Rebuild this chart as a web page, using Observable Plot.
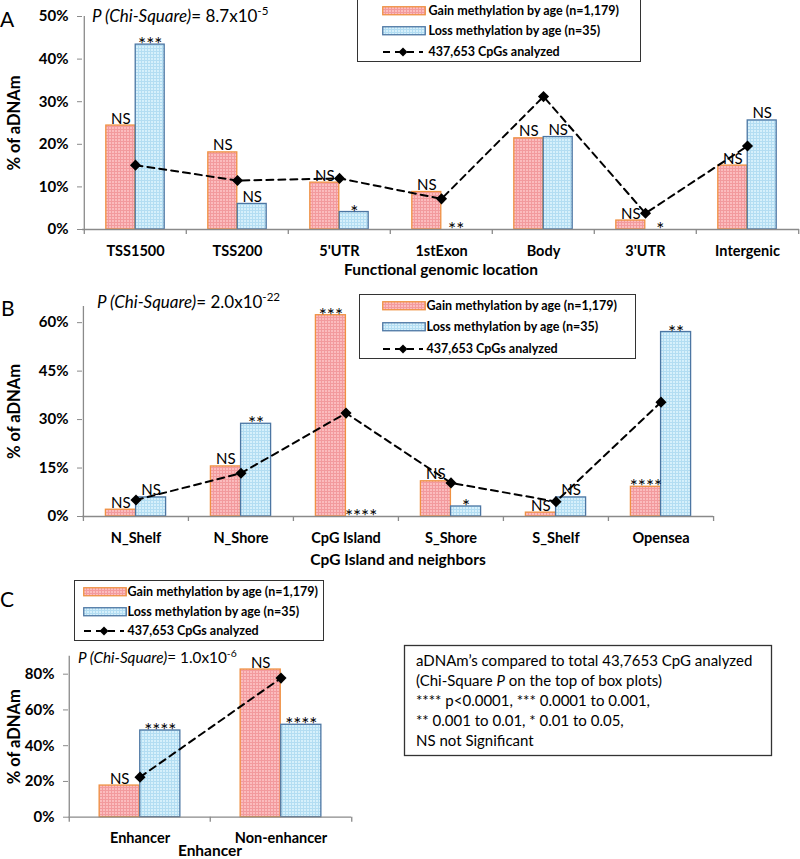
<!DOCTYPE html>
<html><head><meta charset="utf-8">
<script src="https://cdn.jsdelivr.net/npm/d3@7"></script>
<script src="https://cdn.jsdelivr.net/npm/@observablehq/plot@0.6"></script>
<style>
body{margin:0;background:#fff;font-family:Lato, sans-serif;}
#root{position:relative;width:800px;height:859px;overflow:hidden;background:#fff;}
.plot{position:absolute;}
.legend{position:absolute;border:1.5px solid #333;background:#fff;box-sizing:border-box;font-size:12.5px;font-weight:bold;color:#000;}
.lrow{position:absolute;height:14px;line-height:14px;white-space:nowrap;}
.lrow svg{position:absolute;left:0;top:2px;}
.lrow span{position:absolute;top:0;}
#overlay{position:absolute;left:0;top:0;pointer-events:none;}
</style></head>
<body>
<svg width="0" height="0" style="position:absolute">
<defs>
<pattern id="gainPat" width="3" height="3" patternUnits="userSpaceOnUse">
<rect width="3" height="3" fill="#fbbcbe"/>
<path d="M0 0.5H3M0.5 0V3" stroke="#f29a9d" stroke-width="1"/>
</pattern>
<pattern id="lossPat" width="3" height="3" patternUnits="userSpaceOnUse">
<rect width="3" height="3" fill="#d6f0fb"/>
<path d="M0 0.5H3M0.5 0V3" stroke="#b3ddf2" stroke-width="1"/>
</pattern>
</defs>
</svg>
<div id="root"></div>
<script>
// ---------- data ----------
const funcCats = ["TSS1500","TSS200","5'UTR","1stExon","Body","3'UTR","Intergenic"];
const funcGain = [0.244,0.181,0.110,0.088,0.214,0.021,0.150];
const funcLoss = [0.434,0.060,0.041,0,0.217,0,0.256];
const funcAll  = [0.151,0.115,0.120,0.072,0.312,0.038,0.196];
const funcGainSig = ["NS","NS","NS","NS","NS","NS","NS"];
const funcLossSig = ["***","NS","*","**","NS","*","NS"];
const funcTicks = [0,0.1,0.2,0.3,0.4,0.5];

const cgiCats = ["N_Shelf","N_Shore","CpG Island","S_Shore","S_Shelf","Opensea"];
const cgiGain = [0.021,0.155,0.623,0.109,0.012,0.092];
const cgiLoss = [0.059,0.287,0,0.031,0.059,0.571];
const cgiAll  = [0.051,0.134,0.320,0.104,0.046,0.354];
const cgiGainSig = ["NS","NS","***","NS","NS","****"];
const cgiLossSig = ["NS","**","****","*","NS","**"];
const cgiTicks = [0,0.15,0.3,0.45,0.6];

const enhCats = ["Enhancer","Non-enhancer"];
const enhGain = [0.177,0.826];
const enhLoss = [0.485,0.517];
const enhAll  = [0.224,0.778];
const enhGainSig = ["NS","NS"];
const enhLossSig = ["****","****"];
const enhTicks = [0,0.2,0.4,0.6,0.8];

const legendLabels = ["Gain methylation by age (n=1,179)","Loss methylation by age (n=35)","437,653 CpGs analyzed"];
const yLabel = "% of aDNAm";
const noteLines = [
  ["aDNAm\u2019s compared to total 43,7653 CpG analyzed"],
  ["(Chi-Square ", {i:"P"}, " on the top of box plots)"],
  ["**** p<0.0001, *** 0.0001 to 0.001,"],
  ["** 0.001 to 0.01, * 0.01 to 0.05,"],
  ["NS not Significant"]
];

// ---------- styles ----------
const GAIN_STROKE = "#ef9142", LOSS_STROKE = "#4c76a3", AXIS = "#8a8a8a";

function panel(o) {
  const {cats, gain, loss, all, gainSig, lossSig, width, height, mt, mb, ml, mr, yMax, ticks, xTitle, xTitleDy, yLabelDx} = o;
  const bw = (width - ml - mr) / cats.length;
  const barW = bw * 0.287;
  const rows = cats.map((c,i)=>({cat:c, gain:gain[i], loss:loss[i], all:all[i], gs:gainSig[i], ls:lossSig[i]}));
  const isNS = s => s === "NS";
  const nsOpt = {dy: -2, lineAnchor: "bottom", fontSize: 15, fill: "#000"};
  const starOpt = {dy: -7, lineAnchor: "top", fontSize: 19, fill: "#000"};
  return Plot.plot({
    width, height, marginTop: mt, marginBottom: mb, marginLeft: ml, marginRight: mr,
    style: {fontFamily: "Lato, sans-serif", background: "transparent", overflow: "visible"},
    x: {domain: cats, padding: 0, axis: null},
    y: {domain: [0, yMax], axis: null},
    marks: [
      Plot.barY(rows, {x: "cat", y: "gain", fill: "url(#gainPat)", stroke: GAIN_STROKE, strokeWidth: 1.3, insetLeft: bw/2 - barW, insetRight: bw/2}),
      Plot.barY(rows, {x: "cat", y: "loss", fill: "url(#lossPat)", stroke: LOSS_STROKE, strokeWidth: 1.3, insetLeft: bw/2, insetRight: bw/2 - barW}),
      Plot.ruleY([0], {stroke: AXIS, strokeWidth: 1.3}),
      Plot.ruleX([cats[0]], {x: d=>d, y1: 0, y2: yMax, dx: -bw/2, stroke: AXIS, strokeWidth: 1.3}),
      Plot.ruleX(cats, {x: d=>d, y1: 0, y2: 0, insetBottom: -5, dx: -bw/2, stroke: AXIS, strokeWidth: 1.3}),
      Plot.ruleX([cats[cats.length-1]], {x: d=>d, y1: 0, y2: 0, insetBottom: -5, dx: bw/2, stroke: AXIS, strokeWidth: 1.3}),
      Plot.axisY({ticks, tickFormat: d3.format(".0%"), tickSize: 5, tickPadding: 9, stroke: AXIS, fill: "#000", fontSize: 15, fontWeight: "bold", label: null}),
      Plot.axisX({tickSize: 0, tickPadding: 16, fontSize: 14.5, fontWeight: "bold", fill: "#000", label: null}),
      Plot.line(rows, {x: "cat", y: "all", stroke: "#000", strokeWidth: 2, strokeDasharray: "7,5"}),
      Plot.dot(rows, {x: "cat", y: "all", symbol: "diamond2", r: 5, fill: "#000", stroke: "none"}),
      Plot.text(rows, {filter: d => isNS(d.gs), x: "cat", y: "gain", text: "gs", dx: -barW/2, ...nsOpt}),
      Plot.text(rows, {filter: d => !isNS(d.gs), x: "cat", y: "gain", text: "gs", dx: -barW/2, ...starOpt}),
      Plot.text(rows, {filter: d => isNS(d.ls), x: "cat", y: "loss", text: "ls", dx: barW/2, ...nsOpt}),
      Plot.text(rows, {filter: d => !isNS(d.ls), x: "cat", y: "loss", text: "ls", dx: barW/2, ...starOpt}),
      Plot.text([xTitle], {text: d=>d, frameAnchor: "bottom", dy: xTitleDy, lineAnchor: "middle", textAnchor: "middle", fontWeight: "bold", fontSize: 15.5, fill: "#000"}),
      Plot.text([yLabel], {text: d=>d, frameAnchor: "left", dx: yLabelDx, rotate: -90, lineAnchor: "middle", textAnchor: "middle", fontWeight: "bold", fontSize: 16.5, fill: "#000"})
    ]
  });
}

const root = document.getElementById("root");
function place(el, left, top) { el.classList.add("plot"); el.style.left = left + "px"; el.style.top = top + "px"; root.appendChild(el); }

place(panel({cats: funcCats, gain: funcGain, loss: funcLoss, all: funcAll, gainSig: funcGainSig, lossSig: funcLossSig,
  width: 800, height: 280, mt: 16, mb: 51, ml: 82, mr: 1, yMax: 0.5, ticks: funcTicks,
  xTitle: "Functional genomic location", xTitleDy: 41, yLabelDx: -67.5}), 0, 0);

place(panel({cats: cgiCats, gain: cgiGain, loss: cgiLoss, all: cgiAll, gainSig: cgiGainSig, lossSig: cgiLossSig,
  width: 800, height: 280, mt: 16, mb: 54, ml: 82, mr: 87, yMax: 0.65, ticks: cgiTicks,
  xTitle: "CpG Island and neighbors", xTitleDy: 44, yLabelDx: -67.5}), 0, 290);

place(panel({cats: enhCats, gain: enhGain, loss: enhLoss, all: enhAll, gainSig: enhGainSig, lossSig: enhLossSig,
  width: 400, height: 219, mt: 15.8, mb: 42.3, ml: 68, mr: 49, yMax: 0.9, ticks: enhTicks,
  xTitle: "Enhancer", xTitleDy: 34, yLabelDx: -54}), 0, 640);

// ---------- legends ----------
function legend(left, top, w, h, swLeft, txtLeft, rowCenters) {
  const d = document.createElement("div");
  d.className = "legend";
  Object.assign(d.style, {left: left+"px", top: top+"px", width: w+"px", height: h+"px"});
  const sw = [
    `<svg width="44" height="10"><rect x="0.75" y="0.75" width="42.5" height="8" fill="url(#gainPat)" stroke="${GAIN_STROKE}" stroke-width="1.3"/></svg>`,
    `<svg width="44" height="10"><rect x="0.75" y="0.75" width="42.5" height="8" fill="url(#lossPat)" stroke="${LOSS_STROKE}" stroke-width="1.3"/></svg>`,
    `<svg width="44" height="10"><line x1="1" y1="5" x2="41" y2="5" stroke="#000" stroke-width="2" stroke-dasharray="7,5"/><path d="M21 0.5L25.5 5L21 9.5L16.5 5Z" fill="#000"/></svg>`
  ];
  legendLabels.forEach((lab, i) => {
    const r = document.createElement("div");
    r.className = "lrow";
    r.style.left = (swLeft - 1.5) + "px";
    r.style.top = (rowCenters[i] - 7 - 1.5) + "px";
    r.innerHTML = sw[i] + `<span style="left:${txtLeft - swLeft}px">${lab}</span>`;
    d.appendChild(r);
  });
  root.appendChild(d);
}
legend(357, -1, 284, 63, 25, 72, [12, 32, 53]);
legend(359, 294, 277, 65, 23, 68, [12, 33, 55]);
legend(74, 580, 250, 61, 9, 54, [12, 32, 51]);

// ---------- overlay text ----------
const ns = "http://www.w3.org/2000/svg";
const ov = document.createElementNS(ns, "svg");
ov.setAttribute("id", "overlay"); ov.setAttribute("width", 800); ov.setAttribute("height", 859);
ov.style.fontFamily = "Lato, sans-serif";
root.appendChild(ov);
function txt(x, y, html, size, extra) {
  const t = document.createElementNS(ns, "text");
  t.setAttribute("x", x); t.setAttribute("y", y); t.setAttribute("font-size", size);
  if (extra) for (const k in extra) t.setAttribute(k, extra[k]);
  t.innerHTML = html; ov.appendChild(t); return t;
}
const panelLetters = ["A","B","C"];
txt(0, 27, panelLetters[0], 21);
txt(1, 316, panelLetters[1], 21);
txt(0, 607, panelLetters[2], 21);
const pValues = [["8.7","-5"],["2.0","-22"],["1.0","-6"]];
function ptext(x, y, [m, e], size) {
  txt(x, y, `<tspan font-style="italic">P (Chi-Square)</tspan>= ${m}x10<tspan dy="${-size*0.4}" font-size="${size*0.68}">${e}</tspan>`, size);
}
ptext(92, 22, pValues[0], 17);
ptext(97, 308, pValues[1], 17);
ptext(78, 663, pValues[2], 15.3);

// note box
const box = document.createElementNS(ns, "rect");
box.setAttribute("x", 404.5); box.setAttribute("y", 645.5); box.setAttribute("width", 367); box.setAttribute("height", 110);
box.setAttribute("fill", "#fff"); box.setAttribute("stroke", "#333"); box.setAttribute("stroke-width", 1.3);
ov.appendChild(box);
noteLines.forEach((parts, i) => {
  const html = parts.map(p => typeof p === "string" ? p.replace(/</g,"&lt;") : `<tspan font-style="italic">${p.i}</tspan>`).join("");
  txt(416, 666 + i*20, html, 15);
});
</script>
</body></html>
